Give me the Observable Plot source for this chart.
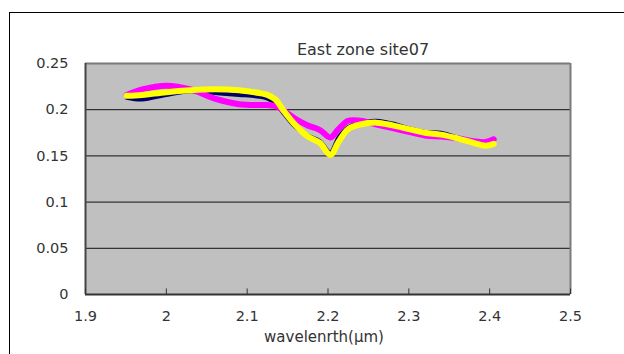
<!DOCTYPE html>
<html>
<head>
<meta charset="utf-8">
<script src="https://cdn.jsdelivr.net/npm/d3@7"></script>
<script src="https://cdn.jsdelivr.net/npm/@observablehq/plot@0.6"></script>
<style>
  html, body { margin: 0; padding: 0; background: #fff; overflow: hidden; }
  #wrap { position: relative; width: 624px; height: 354px; }
  #frame { position: absolute; left: 9px; top: 12px; width: 700px; height: 400px; border: 1px solid #000; box-sizing: border-box; }
  #chart { position: absolute; left: 0; top: 0; }
</style>
</head>
<body>
<div id="wrap"><div id="frame"></div><div id="chart"></div></div>
<script>
const title = "East zone site07";
const xLabel = "wavelenrth(μm)";
const wavelength = [1.951, 1.97, 2.0, 2.03, 2.06, 2.09, 2.115, 2.125, 2.135, 2.145, 2.16, 2.175, 2.19, 2.203, 2.213, 2.225, 2.24, 2.26, 2.28, 2.30, 2.32, 2.34, 2.36, 2.38, 2.395, 2.405];
const navy =    [0.213, 0.211, 0.216, 0.220, 0.218, 0.216, 0.214, 0.212, 0.207, 0.196, 0.181, 0.172, 0.166, 0.154, 0.170, 0.181, 0.186, 0.188, 0.185, 0.180, 0.176, 0.175, 0.170, 0.166, 0.165, 0.168];
const magenta = [0.216, 0.222, 0.226, 0.222, 0.212, 0.206, 0.205, 0.205, 0.204, 0.199, 0.190, 0.183, 0.178, 0.170, 0.179, 0.188, 0.188, 0.184, 0.180, 0.176, 0.172, 0.171, 0.169, 0.166, 0.165, 0.168];
const yellow =  [0.215, 0.216, 0.219, 0.221, 0.222, 0.221, 0.218, 0.216, 0.211, 0.199, 0.183, 0.171, 0.164, 0.151, 0.165, 0.179, 0.184, 0.186, 0.183, 0.179, 0.175, 0.173, 0.169, 0.164, 0.161, 0.163];
const xTicks = [1.9, 2.0, 2.1, 2.2, 2.3, 2.4, 2.5];
const yTicks = [0, 0.05, 0.1, 0.15, 0.2, 0.25];
const gridY = [0.05, 0.1, 0.15, 0.2];

const series = (vals) => wavelength.map((w, i) => ({w, v: vals[i]}));

const chart = Plot.plot({
  width: 624,
  height: 354,
  marginLeft: 85,
  marginRight: 54,
  marginTop: 63,
  marginBottom: 60,
  style: { fontFamily: "'DejaVu Sans', sans-serif", fontSize: "14.5px", background: "transparent", color: "#333" },
  x: { domain: [1.9, 2.5], ticks: xTicks, tickSize: 0, tickPadding: 16, tickFormat: d => String(d), label: null },
  y: { domain: [0, 0.25], ticks: yTicks, tickSize: 0, tickPadding: 17, tickFormat: d => String(d), label: null },
  marks: [
    Plot.frame({ fill: "#c0c0c0", stroke: "none" }),
    Plot.ruleY(gridY, { stroke: "#111", strokeWidth: 1 }),
    Plot.ruleY([0.25], { stroke: "#7a7a7a", strokeWidth: 2 }),
    Plot.ruleX([2.5], { stroke: "#7a7a7a", strokeWidth: 2 }),
    Plot.ruleX([1.9], { stroke: "#444", strokeWidth: 2 }),
    Plot.ruleY([0], { stroke: "#333", strokeWidth: 2 }),
    Plot.ruleX(xTicks, { y1: 0, y2: 0.006, stroke: "#333", strokeWidth: 1 }),
    Plot.line(series(navy), { x: "w", y: "v", stroke: "#000066", strokeWidth: 4, curve: "catmull-rom" }),
    Plot.line(series(magenta), { x: "w", y: "v", stroke: "#ff00ff", strokeWidth: 6, curve: "catmull-rom" }),
    Plot.line(series(yellow), { x: "w", y: "v", stroke: "#ffff00", strokeWidth: 6, curve: "catmull-rom" }),
    Plot.text([title], { frameAnchor: "top", dx: 35, dy: -20, fontSize: 16, fill: "#333" }),
    Plot.text([xLabel], { frameAnchor: "bottom", dx: -4, dy: 47, fontSize: 15, fill: "#333" })
  ]
});
document.getElementById("chart").appendChild(chart);
</script>
</body>
</html>
